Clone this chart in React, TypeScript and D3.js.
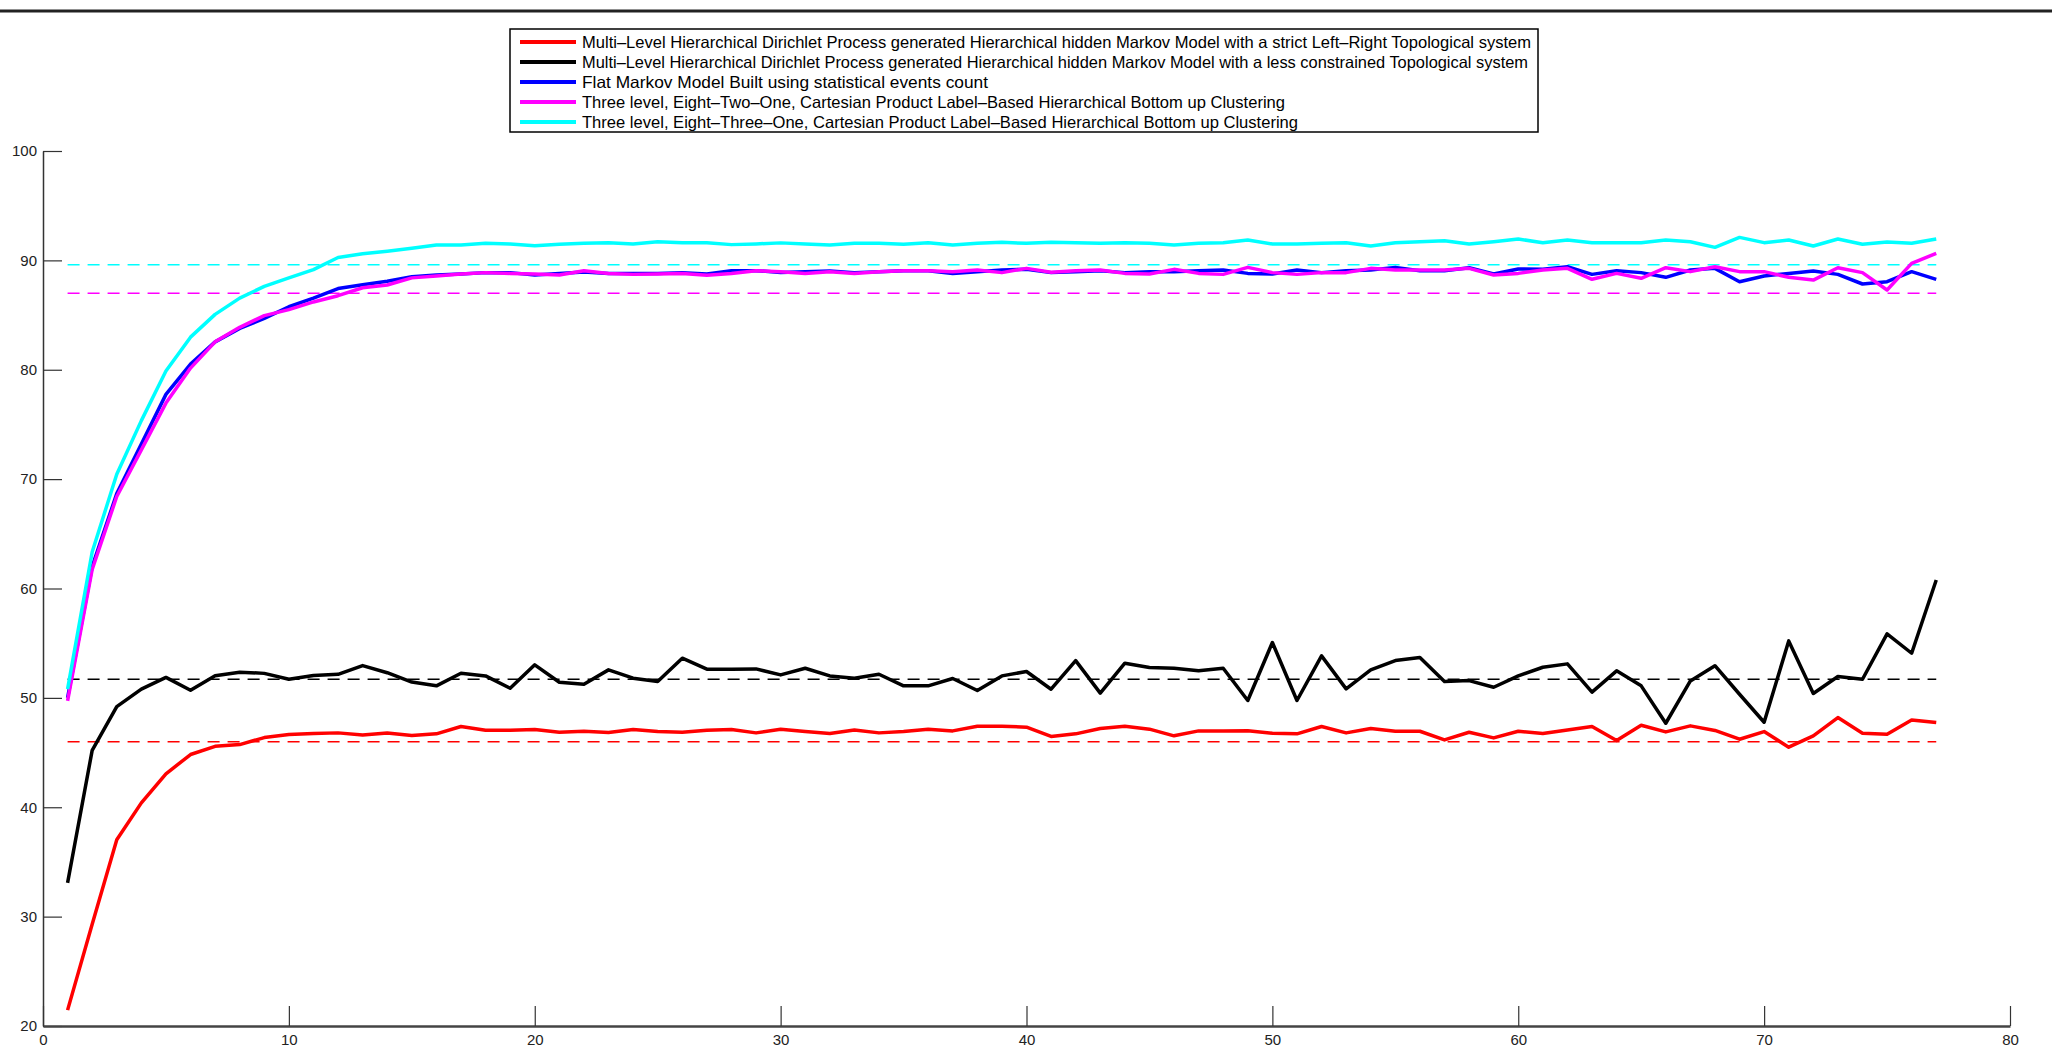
import React, { useEffect, useRef } from "react"
import * as d3 from "d3"

// x = 1..77
const steps = d3.range(1, 78)

const strictLeftRight = [
  21.45, 29.3, 37.03, 40.4, 43.06, 44.82, 45.57, 45.73, 46.37, 46.65,
  46.75, 46.8, 46.6, 46.78, 46.55, 46.71, 47.38, 47.04, 47.04, 47.11,
  46.86, 46.95, 46.83, 47.11, 46.92, 46.86, 47.04, 47.11, 46.8, 47.14,
  46.92, 46.74, 47.07, 46.8, 46.92, 47.14, 46.98, 47.41, 47.41, 47.32,
  46.47, 46.71, 47.2, 47.41, 47.14, 46.53, 46.98, 46.98, 47.0, 46.77,
  46.71, 47.38, 46.8, 47.2, 46.95, 46.95, 46.16, 46.86, 46.34, 46.95,
  46.74, 47.07, 47.38, 46.1, 47.5, 46.89, 47.44, 47.02, 46.22, 46.92,
  45.49, 46.52, 48.2, 46.77, 46.68, 47.98, 47.74,
]

const lessConstrained = [
  33.08, 45.2, 49.2, 50.8, 51.87, 50.7, 52.03, 52.35, 52.24, 51.7,
  52.05, 52.15, 52.95, 52.3, 51.45, 51.1, 52.25, 52.01, 50.88, 53.02,
  51.43, 51.25, 52.56, 51.8, 51.49, 53.63, 52.62, 52.62, 52.65, 52.1,
  52.71, 52.01, 51.8, 52.16, 51.1, 51.1, 51.77, 50.67, 52.01, 52.41,
  50.79, 53.41, 50.43, 53.17, 52.77, 52.71, 52.47, 52.71, 49.76, 55.06,
  49.76, 53.84, 50.82, 52.56, 53.41, 53.69, 51.49, 51.58, 50.97, 52.01,
  52.8, 53.11, 50.52, 52.47, 51.1, 47.68, 51.55, 52.94, 50.33, 47.77,
  55.21, 50.4, 51.95, 51.7, 55.85, 54.08, 60.78,
]

const flatMarkov = [
  50.0, 62.0, 68.68, 73.21, 77.75, 80.52, 82.55, 83.78, 84.69, 85.76,
  86.55, 87.42, 87.77, 88.1, 88.5, 88.66, 88.75, 88.88, 88.88, 88.66,
  88.81, 88.94, 88.81, 88.81, 88.81, 88.88, 88.75, 89.06, 89.06, 88.9,
  88.97, 89.03, 88.88, 88.97, 89.06, 89.06, 88.81, 88.97, 89.12, 89.18,
  88.88, 88.97, 89.06, 88.88, 88.97, 88.97, 89.06, 89.12, 88.81, 88.75,
  89.12, 88.88, 89.06, 89.12, 89.36, 89.06, 89.06, 89.33, 88.75, 89.21,
  89.18, 89.42, 88.72, 89.06, 88.88, 88.45, 89.12, 89.27, 88.05, 88.57,
  88.81, 89.03, 88.72, 87.84, 88.05, 88.97, 88.27,
]

const eightTwoOne = [
  49.73, 61.74, 68.41, 72.68, 76.95, 80.15, 82.55, 83.88, 84.95, 85.5,
  86.2, 86.77, 87.5, 87.75, 88.4, 88.57, 88.75, 88.88, 88.81, 88.75,
  88.66, 89.06, 88.81, 88.72, 88.75, 88.81, 88.63, 88.81, 89.06, 88.97,
  88.81, 88.97, 88.81, 88.97, 89.06, 89.06, 88.97, 89.12, 88.88, 89.27,
  88.91, 89.06, 89.12, 88.81, 88.75, 89.18, 88.81, 88.72, 89.36, 88.88,
  88.72, 88.88, 88.88, 89.27, 89.12, 89.12, 89.12, 89.27, 88.66, 88.81,
  89.12, 89.27, 88.27, 88.81, 88.36, 89.33, 88.97, 89.42, 88.97, 88.97,
  88.45, 88.2, 89.33, 88.88, 87.29, 89.73, 90.64,
]

const eightThreeOne = [
  50.8, 63.34, 70.44, 75.35, 79.88, 82.98, 85.06, 86.55, 87.62, 88.4,
  89.15, 90.26, 90.6, 90.84, 91.1, 91.4, 91.4, 91.56, 91.5, 91.34,
  91.47, 91.56, 91.62, 91.5, 91.71, 91.62, 91.62, 91.44, 91.5, 91.6,
  91.5, 91.4, 91.56, 91.56, 91.47, 91.62, 91.4, 91.56, 91.65, 91.56,
  91.65, 91.62, 91.56, 91.62, 91.56, 91.4, 91.56, 91.62, 91.86, 91.5,
  91.5, 91.56, 91.62, 91.31, 91.62, 91.71, 91.8, 91.5, 91.71, 91.95,
  91.62, 91.86, 91.62, 91.62, 91.62, 91.86, 91.71, 91.19, 92.1, 91.62,
  91.86, 91.31, 91.95, 91.47, 91.68, 91.56, 91.95,
]

// dashed average levels: strict L-R, less constrained, eight-two-one, eight-three-one
const meanLevels = [46.0, 51.7, 87.0, 89.6]

const seriesNames = [
  "Multi–Level Hierarchical Dirichlet Process generated Hierarchical hidden Markov Model with a strict Left–Right Topological system",
  "Multi–Level Hierarchical Dirichlet Process generated Hierarchical hidden Markov Model with a less constrained Topological system",
  "Flat Markov Model Built using statistical events count",
  "Three level, Eight–Two–One, Cartesian Product Label–Based Hierarchical Bottom up Clustering",
  "Three level, Eight–Three–One, Cartesian Product Label–Based Hierarchical Bottom up Clustering",
]

const xTicks = [0, 10, 20, 30, 40, 50, 60, 70, 80]
const yTicks = [20, 30, 40, 50, 60, 70, 80, 90, 100]

const W = 2052
const H = 1053
const colors = ["#ff0000", "#000000", "#0000ff", "#ff00ff", "#00ffff"]
const meanColors = ["#ff0000", "#000000", "#ff00ff", "#00ffff"]
const legendWidths = [949, 946, 406, 703, 716]

export default function App() {
  const ref = useRef<SVGSVGElement | null>(null)

  useEffect(() => {
    const svg = d3.select(ref.current)
    svg.selectAll("*").remove()

    const x = d3.scaleLinear().domain([0, 80]).range([43, 2010])
    const y = d3.scaleLinear().domain([20, 100]).range([1026, 151])

    svg.append("rect").attr("width", W).attr("height", H).attr("fill", "#fff")

    // figure top rule
    svg.append("line")
      .attr("x1", 0).attr("x2", W).attr("y1", 11).attr("y2", 11)
      .attr("stroke", "#222").attr("stroke-width", 3)

    const font = "'Liberation Sans', Arial, sans-serif"

    // axes (ticks point inward, matlab style)
    const yAxis = svg.append("g").attr("transform", "translate(43,0)")
      .call(d3.axisLeft(y).tickValues(yTicks).tickSizeInner(-19).tickSizeOuter(0).tickPadding(6))
    yAxis.select(".domain").attr("stroke", "#333").attr("stroke-width", 1.5)
    yAxis.selectAll(".tick line").attr("stroke", "#333").attr("stroke-width", 1.2)
    yAxis.selectAll("text").attr("font-family", font).attr("font-size", 15).attr("fill", "#222")

    const xAxis = svg.append("g").attr("transform", "translate(0,1026)")
      .call(d3.axisBottom(x).tickValues(xTicks).tickSizeInner(-20).tickSizeOuter(0).tickPadding(8))
    xAxis.select(".domain").attr("stroke", "#444").attr("stroke-width", 2.5)
    xAxis.selectAll(".tick line").attr("stroke", "#333").attr("stroke-width", 1.2)
    xAxis.selectAll("text").attr("font-family", font).attr("font-size", 15).attr("fill", "#222")

    // dashed mean lines
    meanLevels.forEach((v, i) => {
      svg.append("line")
        .attr("x1", x(1)).attr("x2", x(77)).attr("y1", y(v)).attr("y2", y(v))
        .attr("stroke", meanColors[i]).attr("stroke-width", 1.5)
        .attr("stroke-dasharray", "12,8")
    })

    const line = d3.line<number>().x((_, i) => x(steps[i])).y((d) => y(d))
    const all = [strictLeftRight, lessConstrained, flatMarkov, eightTwoOne, eightThreeOne]
    all.forEach((s, i) => {
      svg.append("path")
        .attr("d", line(s))
        .attr("fill", "none")
        .attr("stroke", colors[i])
        .attr("stroke-width", 3.5)
        .attr("stroke-linejoin", "round")
    })

    // legend
    const lg = svg.append("g")
    lg.append("rect")
      .attr("x", 510).attr("y", 29).attr("width", 1028).attr("height", 103)
      .attr("fill", "#fff").attr("stroke", "#000").attr("stroke-width", 1.5)
    seriesNames.forEach((name, i) => {
      const yy = 42 + i * 20
      lg.append("line")
        .attr("x1", 520).attr("x2", 576).attr("y1", yy).attr("y2", yy)
        .attr("stroke", colors[i]).attr("stroke-width", 4)
      lg.append("text")
        .attr("x", 582).attr("y", yy).attr("dy", "0.35em")
        .attr("font-family", font).attr("font-size", 16.5)
        .attr("textLength", legendWidths[i]).attr("lengthAdjust", "spacingAndGlyphs")
        .attr("fill", "#000")
        .text(name)
    })
  }, [])

  return (
    <svg
      ref={ref}
      width={W}
      height={H}
      style={{ position: "absolute", left: 0, top: 0, display: "block" }}
    />
  )
}
